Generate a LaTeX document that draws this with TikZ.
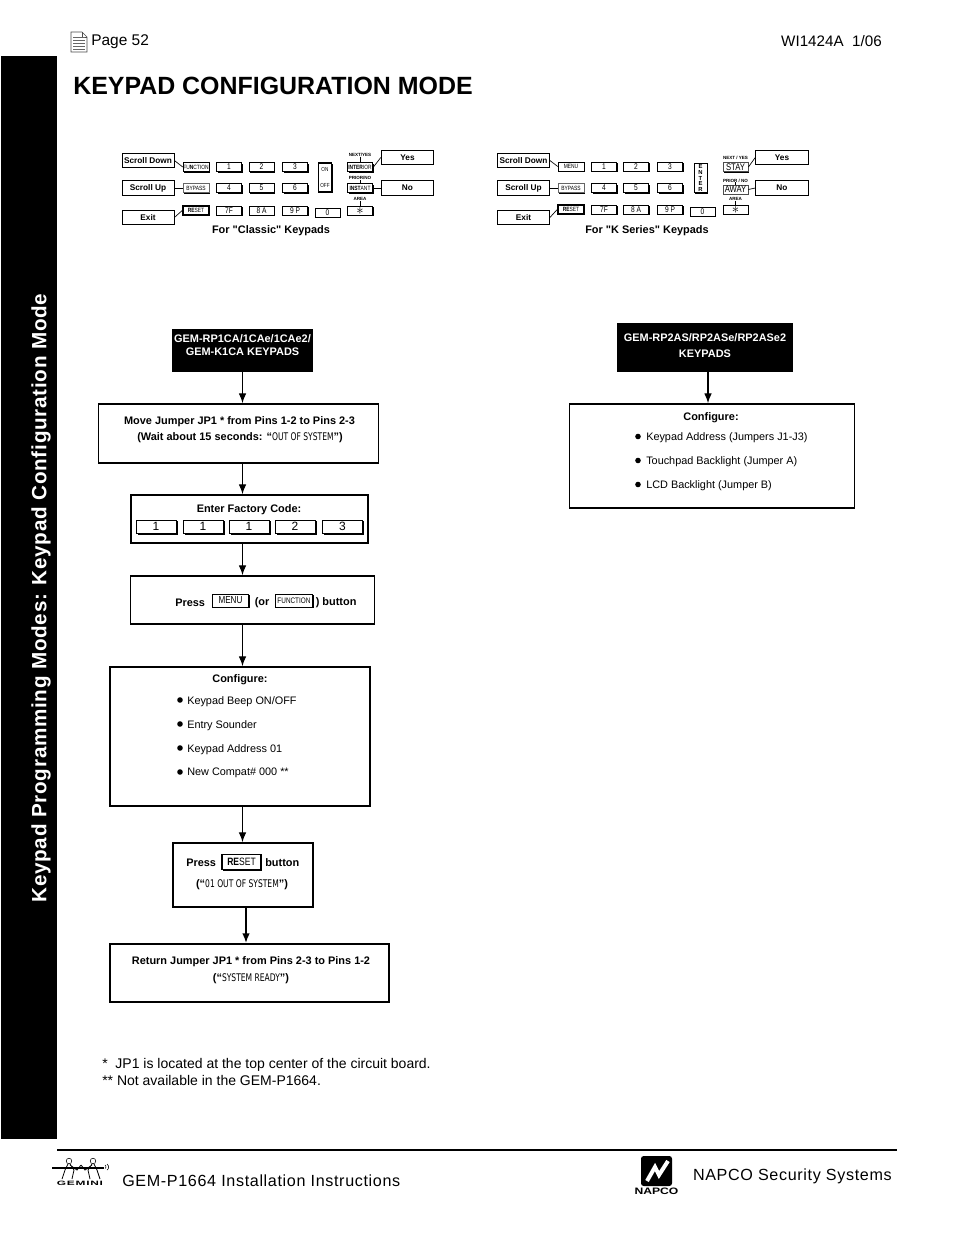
\documentclass[tikz,border=0pt]{standalone}
\usepackage{fontspec}
\usepackage{xcolor}
\setmainfont{Liberation Sans}
\newfontfamily\plainfont{Liberation Sans}
\newfontfamily\lcdfont[FakeStretch=0.72]{DejaVu Sans}
\newfontfamily\capfont[FakeStretch=0.8]{Liberation Sans}
\newfontfamily\spacedfont[LetterSpace=4]{Liberation Sans}
\newfontfamily\sidefont[LetterSpace=3.5]{Liberation Sans}
\newfontfamily\logofont[LetterSpace=12,FakeStretch=1.9]{Liberation Sans}
\newfontfamily\widefont[FakeStretch=1.3]{Liberation Sans}
\newcommand{\lcdtext}[1]{{\lcdfont\mdseries\fontsize{7.9}{9}\selectfont #1}}
\newcommand{\starmark}{\smash{\raisebox{-2.7pt}{\fontsize{11}{7}\selectfont$\ast$}}}
\usetikzlibrary{arrows.meta,shadows}
\tikzset{
    flowbox/.style={shape=rectangle,draw=black,line width=1.5*0.75pt,inner sep=0pt},
    darkbox/.style={shape=rectangle,fill=black,inner sep=0pt},
    darktext/.style={text=white,align=center,inner sep=0pt,font=\bfseries\fontsize{8.2}{9}\selectfont},
    tagbox/.style={shape=rectangle,draw=black,line width=0.6pt,fill=white,font=\bfseries\fontsize{6.2}{7}\selectfont,minimum width=39pt,minimum height=11pt,inner sep=0pt},
    keycap/.style={shape=rectangle,draw=black,line width=0.4pt,fill=white,font=\capfont\fontsize{6.2}{7}\selectfont,minimum width=19pt,minimum height=7pt,inner sep=0pt,drop shadow={shadow xshift=0.9pt,shadow yshift=-0.9pt,fill=black,opacity=1}},
    wordcap/.style={keycap,font=\capfont\fontsize{4.6}{5}\selectfont},
    bigcap/.style={keycap,font=\fontsize{9}{10}\selectfont,minimum width=30pt,minimum height=10pt,drop shadow={shadow xshift=1.2pt,shadow yshift=-1.2pt,fill=black,opacity=1}},
    midcap/.style={keycap,font=\capfont\fontsize{6}{7}\selectfont,minimum width=27pt,minimum height=9.5pt},
    heavycap/.style={wordcap,line width=1.2pt},
    keytag/.style={font=\bfseries\fontsize{3.4}{4}\selectfont,inner sep=0pt},
    flowtext/.style={font=\bfseries\fontsize{8.2}{9}\selectfont,inner sep=0pt,yshift=-0.8pt},
    listtext/.style={anchor=west,font=\fontsize{8.15}{9}\selectfont,inner sep=0pt,yshift=-0.6pt},
    dot/.style={shape=circle,fill=black,minimum size=4.2pt,inner sep=0pt},
    flowarrow/.style={line width=0.9pt,-{Latex[width=2mm,length=2.6mm]}},
    tagline/.style={line width=0.5pt}
}
\begin{document}
\begin{tikzpicture}[x=0.75pt,y=-0.75pt]
    \useasboundingbox (0,0) rectangle (954,1235);
    % page head
    \draw[line width=0.5pt,fill=white,draw=black!70] (71,32) -- (82,32) -- (87,37) -- (87,52) -- (71,52) -- cycle;
    \draw[line width=0.5pt,draw=black!70] (82,32) -- (82,37) -- (87,37);
    \foreach \y in {37,40,43,46,49} \draw[line width=0.4pt,draw=black!60] (73,\y) -- (85,\y);
    \node[anchor=west,inner sep=0pt,yshift=-1pt,font=\fontsize{11.6}{13}\selectfont] (pagenum) at (91,40) {Page 52};
    \node[anchor=east,inner sep=0pt,yshift=-1pt,font=\fontsize{11.4}{13}\selectfont] (docnum) at (882,40) {WI1424A\ \ 1/06};
    \node[anchor=west,inner sep=0pt,font=\bfseries\fontsize{18.7}{24}\selectfont] (title) at (73,86) {KEYPAD CONFIGURATION MODE};
    \fill[black] (1,56) rectangle (57,1139);
    \node[rotate=90,text=white,inner sep=0pt,font=\sidefont\bfseries\fontsize{15.5}{18}\selectfont] (sidebar) at (41,598) {Keypad Programming Modes: Keypad Configuration Mode};

    % classic keypad
    \node[tagbox] (cdown) at (148,160.5) {Scroll Down};
    \node[tagbox] (cup) at (148,188) {Scroll Up};
    \node[tagbox] (cexit) at (148,217.5) {Exit};
    \node[tagbox,minimum width=39.5pt] (cyes) at (407.5,157.5) {Yes};
    \node[tagbox,minimum width=39.5pt] (cno) at (407.5,188) {No};
    \node[wordcap,minimum width=19.5pt] (cfunc) at (196,167) {FU{\bfseries N}CTION};
    \node[wordcap,minimum width=19.5pt,draw=black!60] (cbyp) at (196,188) {BYPASS};
    \node[heavycap,minimum width=19.5pt] (crst) at (196,210.5) {{\bfseries RE}SET};
    \foreach \name/\xpos/\ypos/\txt in {c1/229/167/1,c2/261.5/167/2,c3/295/167/3,c4/229/188/4,c5/261.5/188/5,c6/295/188/6,c7/229/210.5/7F,c8/261.5/210.5/8 A,c9/295/210.5/9 P,c0/327.5/212.5/0}
        \node[keycap] (\name) at (\xpos,\ypos) {\txt};
    \node[heavycap,minimum width=10pt,minimum height=21.5pt,align=center,font=\capfont\fontsize{4.4}{11.5}\selectfont] (conoff) at (325,177.5) {ON\\OFF};
    \node[heavycap] (cint) at (360,167) {{\bfseries INTER}IOR};
    \node[heavycap] (cins) at (360,188) {{\bfseries INST}ANT};
    \node[keycap] (cstar) at (360,210.5) {\starmark};
    \node[keytag] (cnext) at (360,155) {NEXT/YES};
    \node[keytag] (cprior) at (360,178) {PRIOR/NO};
    \node[keytag] (carea) at (360,199) {AREA};
    \draw[tagline] (cdown.east) -- (cfunc.west);
    \draw[tagline] (cup.east) -- (cbyp.west);
    \draw[tagline] (cexit.east) -- (crst.west);
    \draw[tagline] (cyes.west) -- (cint.east);
    \draw[tagline] (cno.west) -- (cins.east);
    \draw[tagline] (cnext) -- (cint);
    \draw[tagline] (cprior) -- (cins);
    \draw[tagline] (carea) -- (cstar);
    \node[flowtext] (ccaption) at (271,230) {\plainfont For "Classic" Keypads};

    % k series keypad
    \node[tagbox] (kdown) at (523.5,160.5) {Scroll Down};
    \node[tagbox] (kup) at (523.5,188) {Scroll Up};
    \node[tagbox] (kexit) at (523.5,217.5) {Exit};
    \node[tagbox,minimum width=39.5pt] (kyes) at (782,157.5) {Yes};
    \node[tagbox,minimum width=39.5pt] (kno) at (782,188) {No};
    \node[wordcap,minimum width=19.5pt] (kmenu) at (571,166.5) {MENU};
    \node[wordcap,minimum width=19.5pt,draw=black!60] (kbyp) at (571,188) {BYPASS};
    \node[heavycap,minimum width=19.5pt] (krst) at (571,209.5) {{\bfseries RE}SET};
    \foreach \name/\xpos/\ypos/\txt in {k1/604/166.5/1,k2/636/166.5/2,k3/670/166.5/3,k4/604/188/4,k5/636/188/5,k6/670/188/6,k7/604/209.5/7F,k8/636/209.5/8 A,k9/670/209.5/9 P,k0/702.5/211.5/0}
        \node[keycap] (\name) at (\xpos,\ypos) {\txt};
    \node[keycap,minimum width=10pt,minimum height=22pt,align=center,font=\bfseries\fontsize{4.4}{4.4}\selectfont] (kenter) at (700.5,178) {E\\N\\T\\E\\R};
    \node[keycap,font=\capfont\fontsize{7.2}{8}\selectfont,draw=black!70] (kstay) at (735.5,167) {STAY};
    \node[keycap,font=\capfont\fontsize{7.2}{8}\selectfont,draw=black!70] (kaway) at (735.5,189.5) {AWAY};
    \node[keycap] (kstar) at (735.5,209.5) {\starmark};
    \node[keytag] (knext) at (735.5,158) {NEXT / YES};
    \node[keytag] (kprior) at (735.5,180.5) {PRIOR / NO};
    \node[keytag] (karea) at (735.5,199) {AREA};
    \draw[tagline] (kdown.east) -- (kmenu.west);
    \draw[tagline] (kup.east) -- (kbyp.west);
    \draw[tagline] (kexit.east) -- (krst.west);
    \draw[tagline] (kyes.west) -- (kstay.east);
    \draw[tagline] (kno.west) -- (kaway.east);
    \draw[tagline] (kprior) -- (kaway);
    \draw[tagline] (karea) -- (kstar);
    \node[flowtext] (kcaption) at (647,230) {\plainfont For "K Series" Keypads};

    % left flow
    \node[darkbox,minimum width=105.75pt,minimum height=32.25pt] (rp1) at (242.5,350.5) {};
    \node[darktext] (rp1a) at (242.5,338.5) {GEM-RP1CA/1CAe/1CAe2/};
    \node[darktext] (rp1b) at (242.5,351.5) {GEM-K1CA KEYPADS};
    \node[flowbox,minimum width=210pt,minimum height=44.25pt] (move) at (238.5,433.5) {};
    \node[flowtext] (movea) at (239.5,421) {Move Jumper JP1 * from Pins 1-2 to Pins 2-3};
    \node[flowtext] (moveb) at (240,437) {(Wait about 15 seconds: ``\lcdtext{OUT OF SYSTEM}'')};
    \node[flowbox,minimum width=177.75pt,minimum height=36pt] (code) at (249.5,519) {};
    \node[flowtext] (codetxt) at (249,509) {Enter Factory Code:};
    \node[bigcap] (d1) at (156,526.5) {1};
    \node[bigcap] (d2) at (203,526.5) {1};
    \node[bigcap] (d3) at (249,526.5) {1};
    \node[bigcap] (d4) at (295,526.5) {2};
    \node[bigcap] (d5) at (342.5,526.5) {3};
    \node[flowbox,minimum width=183pt,minimum height=36pt] (press) at (252.5,600) {};
    \node[flowtext,anchor=west] (pressa) at (175,602) {Press};
    \node[midcap,font=\capfont\fontsize{7.6}{8}\selectfont] (pmenu) at (230.5,600.5) {MENU};
    \node[flowtext,anchor=west] (pressb) at (254.5,602) {(or};
    \node[midcap,minimum width=28pt] (pfunc) at (294,600.5) {FUNCTION};
    \node[flowtext,anchor=west] (pressc) at (315.5,602) {) button};
    \node[flowbox,minimum width=195pt,minimum height=104.25pt] (conf) at (240,736.5) {};
    \node[flowtext] (conftxt) at (240,679) {Configure:};
    \node[dot] (b1) at (180,700) {};
    \node[listtext] (l1) at (187,700.5) {Keypad Beep ON/OFF};
    \node[dot] (b2) at (180,724) {};
    \node[listtext] (l2) at (187,724.5) {Entry Sounder};
    \node[dot] (b3) at (180,748) {};
    \node[listtext] (l3) at (187,748.5) {Keypad Address 01};
    \node[dot] (b4) at (180,772) {};
    \node[listtext] (l4) at (187,772.5) {New Compat\# 000 **};
    \node[flowbox,minimum width=105pt,minimum height=48pt] (rst) at (243,875) {};
    \node[flowtext,anchor=west] (rsta) at (186,862) {Press};
    \node[midcap,heavycap,font=\capfont\fontsize{8}{9}\selectfont,minimum width=29pt,minimum height=11pt] (rkey) at (241.5,862) {{\bfseries RE}SET};
    \node[flowtext,anchor=west] (rstb) at (265,862) {button};
    \node[flowtext] (rstc) at (242,883.5) {(``\lcdtext{01 OUT OF SYSTEM}'')};
    \node[flowbox,minimum width=209.25pt,minimum height=43.5pt] (back) at (249.5,973) {};
    \node[flowtext] (backa) at (251,961) {Return Jumper JP1 * from Pins 2-3 to Pins 1-2};
    \node[flowtext] (backb) at (251,977.5) {(``\lcdtext{SYSTEM READY}'')};
    \coordinate (rstfoot) at (246,907);
    \draw[flowarrow] (rp1.south) -- (move.north -| rp1.south);
    \draw[flowarrow] (move.south -| rp1.south) -- (code.north -| rp1.south);
    \draw[flowarrow] (code.south -| rp1.south) -- (press.north -| rp1.south);
    \draw[flowarrow] (press.south -| rp1.south) -- (conf.north -| rp1.south);
    \draw[flowarrow] (conf.south -| rp1.south) -- (rst.north -| rp1.south);
    \draw[flowarrow,line width=1.5pt] (rstfoot) -- (back.north -| rstfoot);

    % right flow
    \node[darkbox,minimum width=132pt,minimum height=36.75pt] (rp2) at (705,347.5) {};
    \node[darktext] (rp2a) at (705,337.5) {GEM-RP2AS/RP2ASe/RP2ASe2};
    \node[darktext] (rp2b) at (705,353.5) {KEYPADS};
    \node[flowbox,minimum width=213.75pt,minimum height=78pt] (jump) at (712,456) {};
    \node[flowtext] (jumptxt) at (711,416.5) {Configure:};
    \node[dot] (j1) at (638,436.5) {};
    \node[listtext] (m1) at (646,437) {Keypad Address (Jumpers J1-J3)};
    \node[dot] (j2) at (638,460.5) {};
    \node[listtext] (m2) at (646,461) {Touchpad Backlight (Jumper A)};
    \node[dot] (j3) at (638,484.5) {};
    \node[listtext] (m3) at (646,485) {LCD Backlight (Jumper B)};
    \coordinate (rp2foot) at (708,372);
    \draw[flowarrow] (rp2foot) -- (jump.north -| rp2foot);

    % notes and page foot
    \node[anchor=west,inner sep=0pt,yshift=-1pt,font=\fontsize{10.5}{13}\selectfont] (notea) at (102,1064) {*\ \ JP1 is located at the top center of the circuit board.};
    \node[anchor=west,inner sep=0pt,font=\fontsize{10.5}{13}\selectfont] (noteb) at (102,1080) {** Not available in the GEM-P1664.};
    \coordinate (footl) at (57,1150);
    \coordinate (footr) at (897,1150);
    \draw[line width=0.8pt] (footl) -- (footr);
    \node[anchor=west,inner sep=0pt,font=\spacedfont\fontsize{12.1}{14}\selectfont] (install) at (122,1181) {GEM-P1664 Installation Instructions};
    \node[anchor=east,inner sep=0pt,yshift=-1pt,font=\spacedfont\fontsize{12.1}{14}\selectfont] (napco) at (892,1175) {NAPCO Security Systems};
    % gemini logo
    \draw[line width=1pt] (52,1168) -- (104,1168);
    \draw[line width=0.4pt] (69,1161) circle (2.8);
    \draw[line width=0.4pt] (93,1161) circle (2.8);
    \draw[line width=0.6pt] (68,1164) -- (65,1170) -- (62,1179) (70,1164) -- (74,1170) -- (72,1179) (70,1165) -- (77,1170) -- (81,1165);
    \draw[line width=0.6pt] (94,1164) -- (97,1170) -- (100,1179) (92,1164) -- (88,1170) -- (90,1179) (92,1165) -- (85,1170) -- (81,1165);
    \draw[line width=0.4pt] (105,1165) arc (-60:60:2) (107,1164) arc (-60:60:3.5);
    \node[inner sep=0pt,font=\logofont\bfseries\fontsize{4.7}{5}\selectfont] (gemini) at (80,1183) {GEMINI};
    % napco logo
    \fill[black,rounded corners=2pt] (641,1156) rectangle (672,1186);
    \draw[white,line width=3pt] (647,1181) -- (655,1167) -- (659,1175) -- (668,1161);
    \node[inner sep=0pt,font=\widefont\bfseries\fontsize{7}{8}\selectfont] (napcologo) at (656.5,1191) {NAPCO};
\end{tikzpicture}
\end{document}
